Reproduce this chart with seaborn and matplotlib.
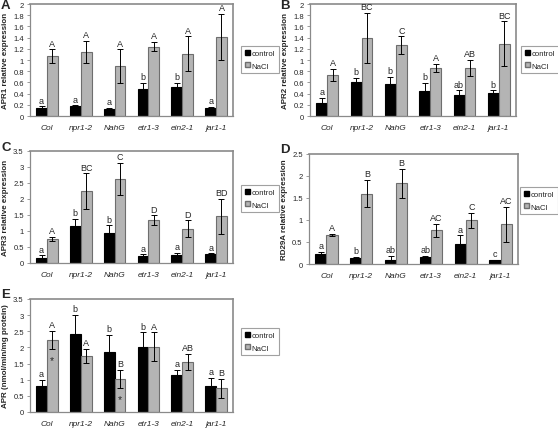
import numpy as np
import pandas as pd
import seaborn as sns
import matplotlib.pyplot as plt
from matplotlib.patches import Patch

# genotypes and treatments
genotypes = ["Col", "npr1-2", "NahG", "etr1-3", "ein2-1", "jar1-1"]
treatments = ["control", "NaCl"]

# panel A: APR1
apr1_ctrl = [0.15, 0.18, 0.13, 0.48, 0.51, 0.15]
apr1_ctrl_err = [0.02, 0.01, 0.01, 0.11, 0.08, 0.01]
apr1_nacl = [1.07, 1.14, 0.89, 1.24, 1.11, 1.41]
apr1_nacl_err = [0.12, 0.20, 0.30, 0.08, 0.31, 0.41]
apr1_ctrl_lab = ["a", "a", "a", "b", "b", "a"]
apr1_nacl_lab = ["A", "A", "A", "A", "A", "A"]

# panel B: APR2
apr2_ctrl = [0.24, 0.61, 0.58, 0.45, 0.37, 0.41]
apr2_ctrl_err = [0.09, 0.07, 0.12, 0.14, 0.09, 0.05]
apr2_nacl = [0.73, 1.39, 1.26, 0.86, 0.86, 1.29]
apr2_nacl_err = [0.11, 0.45, 0.16, 0.07, 0.14, 0.40]
apr2_ctrl_lab = ["a", "b", "b", "b", "ab", "b"]
apr2_nacl_lab = ["A", "BC", "C", "A", "AB", "BC"]

# panel C: APR3
apr3_ctrl = [0.17, 1.15, 0.94, 0.23, 0.25, 0.27]
apr3_ctrl_err = [0.07, 0.23, 0.24, 0.04, 0.06, 0.03]
apr3_nacl = [0.75, 2.25, 2.63, 1.34, 1.07, 1.46]
apr3_nacl_err = [0.06, 0.55, 0.49, 0.15, 0.26, 0.55]
apr3_ctrl_lab = ["a", "b", "b", "a", "a", "a"]
apr3_nacl_lab = ["A", "BC", "C", "D", "D", "BD"]

# panel D: RD29A
rd29a_ctrl = [0.22, 0.13, 0.10, 0.15, 0.46, 0.08]
rd29a_ctrl_err = [0.05, 0.03, 0.09, 0.04, 0.19, 0.01]
rd29a_nacl = [0.66, 1.60, 1.84, 0.77, 0.99, 0.90]
rd29a_nacl_err = [0.02, 0.31, 0.33, 0.15, 0.17, 0.40]
rd29a_ctrl_lab = ["a", "b", "ab", "ab", "a", "c"]
rd29a_nacl_lab = ["A", "B", "B", "AC", "C", "AC"]

# panel E: APR activity
apr_ctrl = [0.80, 2.43, 1.85, 2.02, 1.15, 0.82]
apr_ctrl_err = [0.20, 0.58, 0.53, 0.45, 0.15, 0.24]
apr_nacl = [2.24, 1.74, 1.02, 2.02, 1.55, 0.73]
apr_nacl_err = [0.28, 0.22, 0.29, 0.45, 0.25, 0.30]
apr_ctrl_lab = ["a", "b", "b", "b", "a", "a"]
apr_nacl_lab = ["A", "A", "B", "A", "AB", "B"]
apr_star = [True, False, True, False, False, False]

sns.set_style("white")
plt.rcParams["font.family"] = ["Liberation Sans", "DejaVu Sans"]

colors = {"control": "#000000", "NaCl": "#b4b4b4"}
edges = {"control": "#000000", "NaCl": "#6e6e6e"}
frame = "#8a8a8a"

W, H = 558, 431
fig = plt.figure(figsize=(W / 100, H / 100), dpi=100)


def px_axes(left, top, right, bottom):
    return fig.add_axes([left / W, 1 - bottom / H, (right - left) / W, (bottom - top) / H])


def panel(box, letter, letter_xy, ylabel, ymax, ystep, ctrl, ctrl_err, nacl, nacl_err,
          ctrl_lab, nacl_lab, legend_box, stars=None):
    ax = px_axes(*box)
    df = pd.DataFrame({
        "genotype": genotypes * 2,
        "treatment": ["control"] * 6 + ["NaCl"] * 6,
        "value": ctrl + nacl,
    })
    sns.barplot(data=df, x="genotype", y="value", hue="treatment", order=genotypes,
                hue_order=treatments, palette=colors, width=0.64, gap=0,
                errorbar=None, ax=ax, legend=False, linewidth=0.8)
    bars = ax.patches
    n = len(genotypes)
    for i, p in enumerate(bars[:2 * n]):
        tr = "control" if i < n else "NaCl"
        p.set_edgecolor(edges[tr])
    ctrl_x = [p.get_x() + p.get_width() / 2 for p in bars[:n]]
    nacl_x = [p.get_x() + p.get_width() / 2 for p in bars[n:2 * n]]
    for xs, vals, errs, labs in [(ctrl_x, ctrl, ctrl_err, ctrl_lab),
                                 (nacl_x, nacl, nacl_err, nacl_lab)]:
        ax.errorbar(xs, vals, yerr=errs, fmt="none", ecolor="black", elinewidth=0.7,
                    capsize=2.5, capthick=0.7)
        for x, v, e, lab in zip(xs, vals, errs, labs):
            ax.text(x, v + e + ymax * 0.015, lab, ha="center", va="bottom", fontsize=6.5)
    if stars is not None:
        for x, v, s in zip(nacl_x, nacl, stars):
            if s:
                ax.text(x, v - 0.62, "*", ha="center", va="center", fontsize=7.5)
    ax.set_ylim(0, ymax)
    ax.set_xlim(-0.5, n - 0.5)
    ticks = np.arange(0, ymax + ystep / 2, ystep)
    ax.set_yticks(ticks)
    ax.set_yticklabels([f"{t:g}" for t in ticks], fontsize=5.5)
    ax.set_xticks(range(n))
    ax.set_xticklabels(genotypes, fontsize=6, style="italic")
    ax.set_xticks(np.arange(-0.5, n), minor=True)
    ax.tick_params(axis="x", which="major", length=0, pad=6)
    ax.tick_params(axis="x", which="minor", length=3, width=0.6, color=frame, direction="out")
    ax.tick_params(axis="y", length=2.5, width=0.6, color=frame, direction="out", pad=2,
                   left=True)
    ax.set_xlabel("")
    ax.set_ylabel(ylabel, fontsize=5.8, fontweight="bold", labelpad=3)
    for s in ax.spines.values():
        s.set_color(frame)
        s.set_linewidth(0.9)
    ax.spines["top"].set_linewidth(1.2)
    ax.spines["right"].set_linewidth(1.2)
    fig.text(letter_xy[0] / W, 1 - letter_xy[1] / H, letter, fontsize=9.5,
             fontweight="bold", ha="left", va="top")
    handles = [Patch(facecolor=colors[t], edgecolor=edges[t], label=t) for t in treatments]
    lx0, ly0, lx1, ly1 = legend_box
    leg = fig.legend(handles=handles, loc="upper left",
                     bbox_to_anchor=(lx0 / W, 1 - ly0 / H), fontsize=5.6,
                     frameon=True, fancybox=False, handlelength=0.65, handleheight=0.65,
                     handletextpad=0.25, borderpad=0.45, labelspacing=0.7, borderaxespad=0)
    leg.get_frame().set_edgecolor(frame)
    leg.get_frame().set_linewidth(0.8)
    return ax


panel((30, 5, 233, 117), "A", (1, 0), "APR1 relative expression", 2, 0.2,
      apr1_ctrl, apr1_ctrl_err, apr1_nacl, apr1_nacl_err, apr1_ctrl_lab, apr1_nacl_lab,
      (241, 47, 276, 72))
panel((310, 5, 516, 117), "B", (280, 0), "APR2 relative expression", 2, 0.2,
      apr2_ctrl, apr2_ctrl_err, apr2_nacl, apr2_nacl_err, apr2_ctrl_lab, apr2_nacl_lab,
      (521, 47, 556, 74))
panel((30, 152, 233, 264), "C", (1, 142), "APR3 relative expression", 3.5, 0.5,
      apr3_ctrl, apr3_ctrl_err, apr3_nacl, apr3_nacl_err, apr3_ctrl_lab, apr3_nacl_lab,
      (241, 186, 276, 213))
panel((309, 155, 518, 265), "D", (280, 144), "RD29A relative expression", 2.5, 0.5,
      rd29a_ctrl, rd29a_ctrl_err, rd29a_nacl, rd29a_nacl_err, rd29a_ctrl_lab, rd29a_nacl_lab,
      (520, 188, 556, 214))
panel((30, 300, 233, 413), "E", (1, 289), "APR (nmol/min/mg protein)", 3.5, 0.5,
      apr_ctrl, apr_ctrl_err, apr_nacl, apr_nacl_err, apr_ctrl_lab, apr_nacl_lab,
      (241, 329, 276, 356), stars=apr_star)

fig.savefig("out.png", dpi=100, facecolor="white")
